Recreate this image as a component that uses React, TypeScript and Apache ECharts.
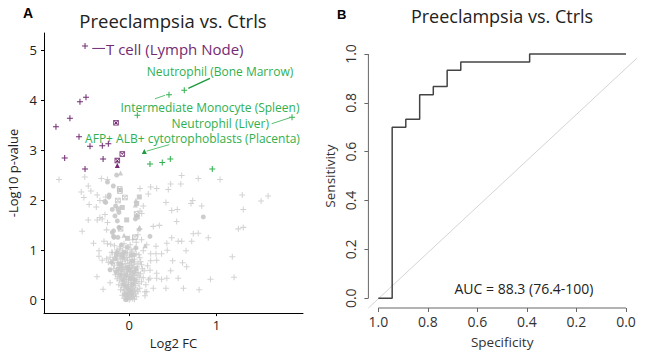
import React, { useEffect, useRef } from "react";
import * as echarts from "echarts";

// ---------- Panel A: volcano data (Log2 FC, -Log10 p) ----------
const grayPlus: number[][] = [
  [-0.805, 2.41], [-0.51, 2.46], [-0.47, 2.28], [-0.44, 2.18], [-0.55, 2.16], [-0.367, 2.1], [-0.52, 2.05],
  [-0.46, 1.91], [-0.378, 1.86], [-0.336, 1.99], [-0.27, 2.06], [-0.25, 2.41], [-0.32, 2.43], [-0.278, 1.71],
  [-0.47, 1.6], [-0.367, 1.6], [-0.336, 1.65], [-0.31, 1.62], [-0.25, 1.55], [-0.26, 1.4], [-0.54, 1.37],
  [-0.41, 1.13], [-0.29, 1.17], [-0.25, 1.12], [-0.213, 1.11], [-0.347, 0.98], [-0.347, 0.87], [-0.31, 0.79],
  [-0.26, 0.82], [-0.195, 0.94], [-0.37, 0.46], [-0.3, 0.21], [-0.22, 0.34],
  [0.6, 2.49], [0.79, 2.43], [0.474, 2.32], [0.59, 2.32], [0.123, 2.23], [0.245, 2.26], [0.314, 2.23],
  [0.447, 2.21], [0.218, 2.12], [0.42, 1.95], [0.726, 1.99], [0.707, 1.93], [0.83, 1.88], [0.16, 1.88],
  [0.486, 1.79], [0.55, 1.81], [0.123, 1.78], [0.142, 1.73], [0.543, 1.57], [0.275, 1.47], [0.344, 1.49],
  [0.115, 1.42], [1.04, 2.41], [1.294, 2.1], [1.59, 2.08], [1.51, 1.98], [1.306, 1.81], [1.25, 1.42],
  [1.306, 1.45], [1.18, 0.86], [1.2, 0.45],
  [0.733, 1.32], [0.79, 1.33], [0.905, 1.24], [0.715, 1.17], [0.6, 1.17], [0.56, 1.17], [0.486, 1.24],
  [0.43, 1.13], [0.306, 1.07], [0.65, 0.98], [0.435, 0.99], [0.37, 0.92], [0.306, 0.92], [0.245, 0.92],
  [0.497, 0.78], [0.61, 0.74], [0.657, 0.66], [0.245, 0.78], [0.314, 0.79], [0.474, 0.58], [0.314, 0.53],
  [0.56, 0.43], [0.43, 0.43], [0.37, 0.41], [0.314, 0.43], [0.237, 0.43], [0.93, 0.41], [0.42, 0.23],
  [0.62, 0.23], [0.8, 0.2], [0.275, 0.23], [0.18, 0.16], [0.237, 0.59],
  [0.1, 1.3], [0.14, 1.2], [0.2, 1.1], [0.08, 1.15], [0.16, 0.98], [0.04, 1.2],
  [-0.02, 0.02], [0.01, 0.03], [0.03, 0.05], [-0.04, 0.06], [0.05, 0.08], [-0.01, 0.09], [0.02, 0.11],
  [-0.05, 0.12], [0.07, 0.12], [0.0, 0.14], [-0.03, 0.16], [0.04, 0.17], [-0.07, 0.18], [0.02, 0.2],
  [0.09, 0.2], [-0.02, 0.22], [0.05, 0.24], [-0.06, 0.25], [0.01, 0.26], [-0.09, 0.28], [0.07, 0.28],
  [0.03, 0.3], [-0.04, 0.31], [0.11, 0.32], [-0.01, 0.34], [0.05, 0.35], [-0.08, 0.36], [0.02, 0.38],
  [-0.11, 0.39], [0.08, 0.4], [-0.03, 0.41], [0.04, 0.43], [-0.06, 0.44], [0.12, 0.45], [0.0, 0.46],
  [-0.13, 0.47], [0.06, 0.48], [-0.02, 0.5], [0.03, 0.52], [-0.09, 0.53], [0.1, 0.54], [-0.05, 0.56],
  [0.01, 0.57], [-0.15, 0.58], [0.07, 0.59], [-0.01, 0.61], [0.04, 0.63], [-0.11, 0.64], [-0.07, 0.66],
  [0.09, 0.66], [0.0, 0.68], [-0.17, 0.69], [0.05, 0.7], [-0.04, 0.72], [-0.13, 0.74], [0.02, 0.75],
  [0.13, 0.76], [-0.08, 0.77], [-0.02, 0.79], [-0.19, 0.8], [0.06, 0.81], [-0.1, 0.83], [0.0, 0.85],
  [-0.15, 0.86], [0.04, 0.87], [-0.06, 0.89], [0.11, 0.9], [-0.12, 0.92], [-0.02, 0.94], [-0.2, 0.95],
  [0.03, 0.97], [-0.08, 0.98], [-0.14, 1.0], [0.07, 1.02], [-0.04, 1.04], [-0.1, 1.06], [-0.17, 1.08],
  [0.01, 1.1], [-0.06, 1.12], [-0.03, 0.02], [0.0, 0.0], [-0.06, 0.03], [0.06, 0.01], [0.03, 0.14],
  [-0.08, 0.09], [0.1, 0.16], [0.08, 0.06], [-0.1, 0.2], [0.12, 0.23], [-0.12, 0.3], [0.14, 0.36],
  [-0.14, 0.42], [0.13, 0.52], [-0.16, 0.5], [0.15, 0.62], [-0.18, 0.62], [-0.2, 0.72], [0.14, 0.7],
  [-0.22, 0.85], [0.12, 0.84], [-0.24, 0.75], [0.17, 0.58], [0.16, 0.44], [0.19, 0.3], [0.2, 0.16],
  [0.18, 0.08], [0.22, 0.4], [0.21, 0.68], [-0.01, 0.05], [0.02, 0.07], [-0.04, 0.1], [0.04, 0.02],
  [0.01, 0.18], [-0.02, 0.27], [0.06, 0.33], [-0.05, 0.37], [0.03, 0.45], [-0.07, 0.49], [0.08, 0.55],
  [-0.03, 0.6], [0.02, 0.64], [-0.09, 0.7], [0.1, 0.73], [-0.05, 0.8], [0.08, 0.92], [-0.11, 1.02],
  [-0.03, 0.08], [0.0, 0.12], [0.03, 0.22], [-0.05, 0.2], [0.06, 0.18], [-0.01, 0.3], [0.02, 0.34],
  [-0.07, 0.33], [0.09, 0.37], [-0.04, 0.46], [0.05, 0.5], [-0.1, 0.45], [0.0, 0.55], [-0.06, 0.6],
  [0.03, 0.68], [-0.08, 0.72], [0.06, 0.76], [-0.14, 0.8], [-0.03, 0.85], [0.02, 1.0], [-0.11, 0.88],
  [-0.07, 0.95], [0.0, 0.72], [-0.01, 0.4], [0.04, 0.1], [-0.02, 0.14], [0.01, 0.48], [-0.05, 0.65],
  [-0.12, 0.56], [0.1, 0.48],
];
const grayCircle: number[][] = [
  [-0.25, 2.36], [-0.145, 2.5], [-0.183, 2.28], [-0.233, 2.06], [-0.27, 1.95], [-0.195, 1.81], [-0.156, 1.88],
  [-0.118, 1.75], [-0.164, 1.68], [-0.137, 1.58], [-0.118, 1.45], [-0.195, 1.35], [-0.13, 1.25], [-0.175, 1.25],
  [0.848, 1.66], [0.237, 1.27], [0.076, 1.04], [-0.28, 1.97], [-0.23, 2.1], [-0.18, 1.38], [-0.18, 1.27],
  [0.07, 1.62], [-0.2, 0.75], [-0.15, 0.9], [-0.22, 0.6], [-0.05, 0.95], [-0.1, 0.7], [0.05, 0.9], [-0.15, 0.55],
  [-0.05, 0.1], [0.02, 0.15], [-0.03, 0.25], [0.04, 0.3], [-0.07, 0.4], [0.01, 0.42], [-0.04, 0.5],
  [0.05, 0.55], [-0.09, 0.6], [-0.02, 0.65], [-0.12, 0.72], [0.03, 0.78], [-0.07, 0.84], [-0.14, 0.95],
  [-0.02, 1.05], [0.0, 0.2], [-0.06, 0.3], [0.06, 0.4], [-0.1, 0.5], [0.08, 0.62], [-0.13, 0.62],
  [-0.16, 0.82], [0.02, 0.9], [-0.09, 1.1], [-0.04, 0.0],
];
const graySquare: number[][] = [
  [-0.08, 1.85], [-0.03, 1.6], [0.115, 2.06], [0.085, 1.93], [0.092, 1.66], [-0.126, 1.82], [-0.02, 1.23],
  [-0.08, 0.9], [0.0, 0.6],
];
const grayTriangle: number[][] = [
  [-0.1, 2.54], [-0.06, 1.29], [0.076, 1.99], [0.12, 1.45], [0.18, 1.08], [0.07, 1.9], [0.11, 1.42],
];
const grayXSquare: number[][] = [
  [-0.107, 2.18], [-0.13, 1.99], [-0.1, 1.42], [-0.05, 2.05], [0.084, 1.72], [0.065, 1.25], [-0.11, 2.22],
];
const purplePlus: number[][] = [
  [-0.507, 5.09], [-0.565, 3.97], [-0.496, 4.06], [-0.68, 3.64], [-0.84, 3.47], [-0.576, 3.27], [-0.45, 3.08],
  [-0.309, 3.09], [-0.24, 3.13], [-0.74, 2.84], [-0.3, 2.82], [-0.507, 2.62],
];
const purpleXSquare: number[][] = [[-0.152, 3.55], [-0.08, 2.92], [-0.137, 2.79]];
const purpleTriangle: number[][] = [[-0.137, 2.69]];
const greenPlus: number[][] = [
  [0.63, 4.2], [0.455, 4.11], [0.092, 3.7], [1.864, 3.66], [0.237, 2.72], [0.378, 2.75], [0.47, 2.82], [0.951, 2.62],
];
const greenTriangle: number[][] = [[0.172, 2.97]];

// annotation leader segments (data coords) and label texts
const leaderTCell = [[-0.424, 5.04], [-0.278, 5.04]];
const leaderBoneMarrow = [[0.676, 4.24], [0.924, 4.44]];
const leaderMonocyte = [[0.294, 4.03], [0.409, 4.1]];
const leaderLiver = [[1.631, 3.53], [1.841, 3.65]];
const leaderAFP = [[0.199, 2.98], [0.458, 3.11]];
const labelTexts = [
  "T cell (Lymph Node)",
  "Neutrophil (Bone Marrow)",
  "Intermediate Monocyte (Spleen)",
  "Neutrophil (Liver)",
  "AFP+ ALB+ cytotrophoblasts (Placenta)",
];
const xTicksA = [0, 1];
const yTicksA = [0, 1, 2, 3, 4, 5];

// ---------- Panel B: ROC ----------
const rocSpecificity = [1, 0.944, 0.944, 0.889, 0.889, 0.833, 0.833, 0.778, 0.778, 0.722, 0.722, 0.667, 0.667, 0.389, 0.389, 0];
const rocSensitivity = [0, 0, 0.7, 0.7, 0.733, 0.733, 0.833, 0.833, 0.867, 0.867, 0.933, 0.933, 0.967, 0.967, 1, 1];
const ticksB = [0, 0.2, 0.4, 0.6, 0.8, 1];
const diagonal = [[1.04, -0.04], [-0.075, 1.012]];
const aucText = "AUC = 88.3 (76.4-100)";
const titleText = "Preeclampsia vs. Ctrls";

const FONT = "'Open Sans', 'Noto Sans', sans-serif";
const PURPLE = "#722b73";
const GREEN = "#30b04f";
const GRAY = "#c8c8c8";
const PLUS = "path://M-1,-0.17H1V0.17H-1Z M-0.17,-1H0.17V1H-0.17Z";
const XSQUARE =
  "path://M-1,-1H1V1H-1Z M-0.7,-0.7V0.7H0.7V-0.7Z M-0.7,-0.5L-0.5,-0.7L0.7,0.5L0.5,0.7Z M0.5,-0.7L0.7,-0.5L-0.5,0.7L-0.7,0.5Z";

export default function App() {
  const ref = useRef<HTMLDivElement>(null);
  useEffect(() => {
    if (!ref.current) return;
    document.body.style.margin = "0";
    const chart = echarts.init(ref.current, null, { renderer: "svg" });
    const sc = (data: number[][], symbol: string, size: number, color: string, opacity = 1, z = 2) => ({
      type: "scatter",
      xAxisIndex: 0,
      yAxisIndex: 0,
      data,
      symbol,
      symbolSize: size,
      itemStyle: { color, opacity },
      z,
      silent: true,
    });
    const seg = (data: number[][], color: string, width: number, idx = 0) => ({
      type: "line",
      xAxisIndex: idx,
      yAxisIndex: idx,
      data,
      symbol: "none",
      lineStyle: { color, width },
      clip: false,
      z: 3,
      silent: true,
    });
    const txt = (text: string, x: number, y: number, color: string, size: number, align = "center", weight = "normal", family = FONT) => ({
      type: "text",
      x,
      y,
      style: { text, fill: color, font: `${weight} ${size}px ${family}`, align, verticalAlign: "middle", lineHeight: Math.round(size * 1.15) },
    });
    const option: any = {
      animation: false,
      grid: [
        { left: 44, top: 33, width: 259, height: 284 },
        { left: 368.4, top: 44.2, width: 267.5, height: 264.2 },
      ],
      xAxis: [
        {
          gridIndex: 0, type: "value", min: -0.977, max: 1.99,
          axisLine: { onZero: false, lineStyle: { color: "#000", width: 1 } },
          axisTick: { customValues: xTicksA, length: 3, lineStyle: { color: "#000" } },
          axisLabel: { customValues: xTicksA, margin: 5, fontSize: 13, color: "#222", fontFamily: FONT },
          splitLine: { show: false },
          name: "Log2 FC", nameLocation: "middle", nameGap: 18,
          nameTextStyle: { fontSize: 13, color: "#222", fontFamily: FONT },
        },
        {
          gridIndex: 1, type: "value", min: -0.04, max: 1.04, inverse: true,
          axisLine: { show: false, onZero: false },
          axisTick: { show: true, customValues: ticksB, length: 4, lineStyle: { color: "#666" } },
          axisLabel: { customValues: ticksB, margin: 6, fontSize: 14, color: "#333", fontFamily: FONT, formatter: (v: number) => v.toFixed(1) },
          splitLine: { show: false },
          name: "Specificity", nameLocation: "middle", nameGap: 27,
          nameTextStyle: { fontSize: 13.5, color: "#333", fontFamily: FONT },
        },
      ],
      yAxis: [
        {
          gridIndex: 0, type: "value", min: -0.27, max: 5.35,
          axisLine: { onZero: false, lineStyle: { color: "#000", width: 1 } },
          axisTick: { customValues: yTicksA, length: 3, lineStyle: { color: "#000" } },
          axisLabel: { customValues: yTicksA, margin: 7, fontSize: 13, color: "#222", fontFamily: FONT },
          splitLine: { show: false },
          name: "-Log10 p-value", nameLocation: "middle", nameGap: 25,
          nameTextStyle: { fontSize: 13, color: "#222", fontFamily: FONT },
        },
        {
          gridIndex: 1, type: "value", min: -0.04, max: 1.04,
          axisLine: { show: false, onZero: false },
          axisTick: { show: true, customValues: ticksB, length: 4, lineStyle: { color: "#666" } },
          axisLabel: { customValues: ticksB, margin: 11, rotate: 90, fontSize: 14, color: "#333", fontFamily: FONT, formatter: (v: number) => v.toFixed(1) },
          splitLine: { show: false },
          name: "Sensitivity", nameLocation: "middle", nameGap: 31,
          nameTextStyle: { fontSize: 13.5, color: "#333", fontFamily: FONT },
        },
      ],
      series: [
        sc(grayPlus, PLUS, 6, GRAY, 0.8),
        sc(grayCircle, "circle", 5, GRAY, 0.9),
        sc(graySquare, "rect", 5, GRAY, 0.9),
        sc(grayTriangle, "triangle", 5, GRAY, 0.9),
        sc(grayXSquare, XSQUARE, 5.5, "#bcbcbc", 0.9),
        sc(purplePlus, PLUS, 6, PURPLE, 1, 4),
        sc(purpleXSquare, XSQUARE, 5.5, PURPLE, 1, 4),
        sc(purpleTriangle, "triangle", 5, PURPLE, 1, 4),
        sc(greenPlus, PLUS, 6, GREEN, 1, 4),
        sc(greenTriangle, "triangle", 5, "#1f9a3f", 1, 4),
        seg(leaderTCell, PURPLE, 1),
        seg(leaderBoneMarrow, "#1f9a3f", 1.5),
        seg(leaderMonocyte, GREEN, 0.8),
        seg(leaderLiver, GREEN, 0.8),
        seg(leaderAFP, GREEN, 0.8),
        // panel B
        seg(diagonal, "#d4d4d4", 1, 1),
        seg([[ticksB[5], -0.04], [ticksB[0], -0.04]], "#666", 1, 1),
        seg([[1.04, ticksB[0]], [1.04, ticksB[5]]], "#666", 1, 1),
        {
          type: "line", xAxisIndex: 1, yAxisIndex: 1,
          data: rocSpecificity.map((s, i) => [s, rocSensitivity[i]]),
          symbol: "none", lineStyle: { color: "#444", width: 1.5 }, z: 5, silent: true,
        },
      ],
      graphic: [
        txt("A", 23, 13, "#000", 14, "left", "bold", "'Liberation Sans', Arial, sans-serif"),
        txt("B", 337, 14, "#000", 13, "left", "bold", "'Liberation Sans', Arial, sans-serif"),
        txt(titleText, 173, 20, "#222", 18.5),
        txt(titleText, 502, 16, "#222", 18),
        txt(labelTexts[0], 106, 48.5, PURPLE, 15, "left"),
        txt(labelTexts[1], 220, 71.5, GREEN, 12),
        txt(labelTexts[2], 210, 107, GREEN, 12),
        txt(labelTexts[3], 269, 123, GREEN, 12, "right"),
        txt(labelTexts[4], 192.5, 138.5, GREEN, 12),
        txt(aucText, 524, 288, "#222", 14),
      ],
    };
    chart.setOption(option);
    return () => chart.dispose();
  }, []);
  return <div ref={ref} style={{ width: 647, height: 354 }} />;
}
